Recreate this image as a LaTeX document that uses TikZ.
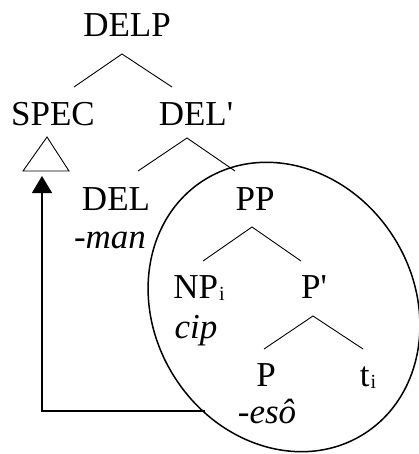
\documentclass[tikz,border=0pt]{standalone}
\usepackage{fontspec}
\newfontfamily\treefont{Liberation Serif}[ItalicFont={Liberation Serif Italic}]
\usepackage{tikz}
\usetikzlibrary{arrows.meta, calc}

\tikzset{
  lbl/.style={font=\treefont\fontsize{35}{42}\selectfont, inner sep=0pt, anchor=base},
  gloss/.style={font=\treefont\itshape\fontsize{35}{42}\selectfont, inner sep=0pt, anchor=base},
  branch/.style={line width=0.9pt},
  move/.style={line width=1.2pt, -{Triangle[length=17pt, width=20pt]}}
}
\newcommand{\idx}{\kern1pt\raisebox{-2pt}{\fontsize{20}{20}\selectfont i}}

\begin{document}
\begin{tikzpicture}[x=1pt, y=-1pt]
  \useasboundingbox (0,0) rectangle (419,454);

  % labels
  \node[lbl] (DELP) at (127,37) {DELP};
  \node[lbl] (SPEC) at (53,126) {SPEC};
  \node[lbl] (DELbar) at (196,126) {DEL'};
  \node[lbl] (DEL) at (116,210) {DEL};
  \node[lbl] (PP) at (255,210) {PP};
  \node[gloss] (man) at (110,248) {-man};
  \node[lbl] (NPi) at (199,298) {NP\idx};
  \node[lbl] (Pbar) at (314,298) {P'};
  \node[gloss] (cip) at (196,338) {cip};
  \node[lbl] (P) at (266,386) {P};
  \node[lbl] (ti) at (368,386) {t\idx};
  \node[gloss] (eso) at (267,423) {-esô};

  % branches
  \draw[branch] ($(SPEC.base)+(21,-39)$) -- ($(DELP.base)+(-5,17)$) -- ($(DELbar.base)+(-24,-39)$);
  \draw[branch] ($(DEL.base)+(22,-39)$) -- ($(DELbar.base)+(-9,12)$) -- ($(PP.base)+(-20,-39)$);
  \draw[branch] ($(NPi.base)+(4,-37)$) -- ($(PP.base)+(-3,17)$) -- ($(Pbar.base)+(-13,-37)$);
  \draw[branch] ($(P.base)+(-2,-37)$) -- ($(Pbar.base)+(-1,18)$) -- ($(ti.base)+(-5,-37)$);

  % triangle under SPEC
  \coordinate (SPECtri) at ($(SPEC.base)+(-6,11)$);
  \draw[branch] (SPECtri) -- ++(-24,34) -- ++(46,0) -- cycle;

  % circled PP and movement
  \draw[line width=1.5pt, rotate around={32:(284,307)}] (284,307) ellipse (130 and 150);
  \coordinate (trace) at (205,411);
  \draw[move] (trace) -| ($(SPECtri)+(-5,39)$);
\end{tikzpicture}
\end{document}
